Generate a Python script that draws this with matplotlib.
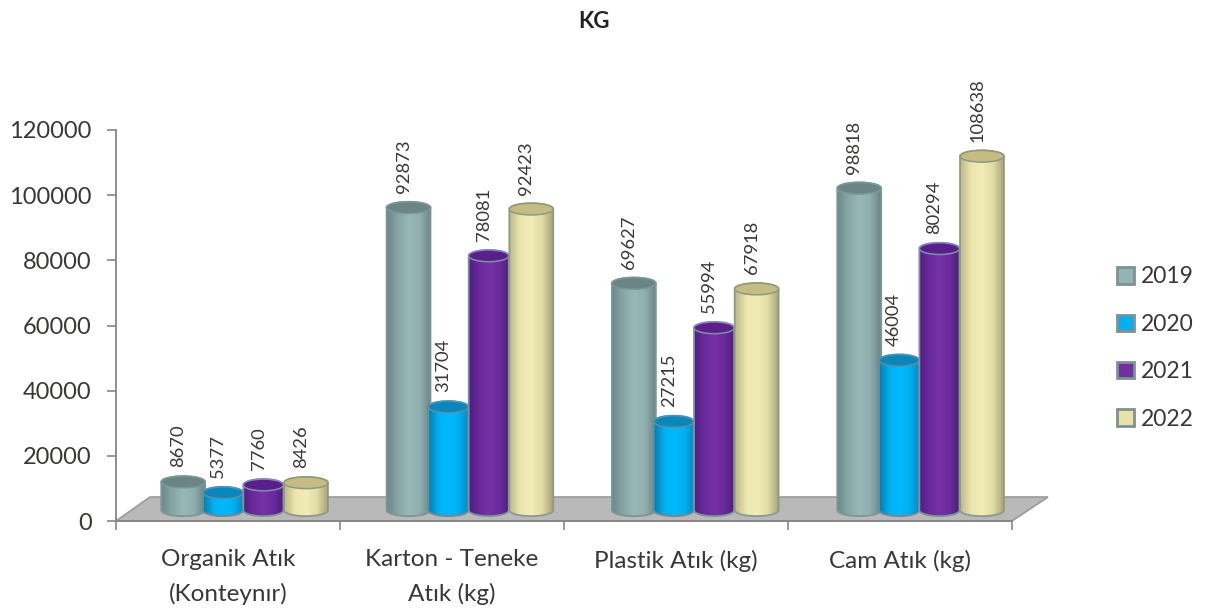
import numpy as np
import matplotlib
matplotlib.use("Agg")
import matplotlib.pyplot as plt
from matplotlib.patches import Ellipse, Polygon, Patch
from matplotlib.colors import LinearSegmentedColormap

categories = ["Organik Atık\n(Konteynır)", "Karton - Teneke\nAtık (kg)", "Plastik Atık (kg)", "Cam Atık (kg)"]
series_names = ["2019", "2020", "2021", "2022"]
v2019 = [8670, 92873, 69627, 98818]
v2020 = [5377, 31704, 27215, 46004]
v2021 = [7760, 78081, 55994, 80294]
v2022 = [8426, 92423, 67918, 108638]
yticks = [0, 20000, 40000, 60000, 80000, 100000, 120000]

series = [v2019, v2020, v2021, v2022]
grads = [["#6d8888", "#86a6a6", "#98b8b8", "#90b0b0", "#6c8484"],
         ["#0a7aa8", "#00b0f0", "#00baff", "#00b0f0", "#0588b8"],
         ["#4f1f80", "#6a2a9c", "#7730a5", "#6a2a9c", "#4a1f78"],
         ["#bcb88a", "#ebe5ae", "#f2edb8", "#e2dca6", "#a6a47a"]]
tops = ["#6b8585", "#0a87b8", "#5a1f8a", "#c4bc82"]
edges = ["#7d9696", "#5f8fa5", "#7f8fa8", "#8f9a80"]
legend_fill = ["#94b4b4", "#00b0f0", "#7030a0", "#e8e2a8"]
widths = [0.196, 0.179, 0.179, 0.196]
offs = [-0.2, -0.022, 0.158, 0.348]

plt.rcParams["font.family"] = ["Lato", "DejaVu Sans"]
W, H = 1207, 610
fig = plt.figure(figsize=(W / 100, H / 100), dpi=100)
ax = fig.add_axes([116 / W, 1 - 521 / H, 896 / W, 391 / H])
ax.set_xlim(0, 4)
ax.set_ylim(0, 120000)

txtc = "#3a3835"
lift = 3300     # floor offset of the bars, in value units
ry = 1800       # half height of cylinder ellipse, in value units
step = 1.006

# floor
dx, dy = 34 / 896, 24 / 391
ax.add_patch(Polygon([(0, 0), (1, 0), (1 + 36 / 896, dy), (dx, dy)], closed=True,
                     transform=ax.transAxes, fc="#b9b9b9", ec="#9a9a9a", lw=1.2,
                     clip_on=False, zorder=1))

t = np.linspace(0, np.pi, 40)
z = 3
for g in range(4):
    for s in range(4):
        val = series[s][g]
        w = widths[s]
        xc = 0.5 + g * step + offs[s]
        top = lift + val
        xs_bot = xc - w / 2 * np.cos(t)
        ys_bot = lift - ry * np.sin(t)
        xs_top = xc + w / 2 * np.cos(t)
        ys_top = top + ry * np.sin(t)
        poly = Polygon(np.c_[np.r_[xs_bot, xs_top], np.r_[ys_bot, ys_top]], closed=True,
                       fc="none", ec=edges[s], lw=1.3, zorder=z + 1, clip_on=False)
        cmap = LinearSegmentedColormap.from_list("c", grads[s])
        im = ax.imshow(np.linspace(0, 1, 128)[None, :], extent=(xc - w / 2, xc + w / 2, lift - ry, top + ry),
                       aspect="auto", cmap=cmap, zorder=z, origin="lower")
        ax.add_patch(poly)
        im.set_clip_path(poly)
        ax.add_patch(Ellipse((xc, top), w, 2 * ry, fc=tops[s], ec=edges[s], lw=1.1,
                             zorder=z + 2, clip_on=False))
        ax.annotate(str(val), (xc, top), xytext=(-3.5, 10.5), textcoords="offset points",
                    rotation=90, ha="center", va="bottom", fontsize=13.2, color=txtc,
                    zorder=100, annotation_clip=False)
        z += 3

ax.set_xlim(0, 4)
ax.set_ylim(0, 120000)

for sp in ["top", "right"]:
    ax.spines[sp].set_visible(False)
for sp in ["left", "bottom"]:
    ax.spines[sp].set_color("#868686")
    ax.spines[sp].set_linewidth(1.3)
    ax.spines[sp].set_zorder(2)

ax.set_yticks(yticks)
ax.set_yticklabels([str(y) for y in yticks])
ax.tick_params(axis="y", length=6.5, width=1.2, color="#868686", labelsize=17, labelcolor=txtc, pad=11)
ax.set_xticks([0, 1, 2, 3, 4])
ax.set_xticklabels([])
ax.tick_params(axis="x", which="major", length=6.5, width=1.2, color="#868686")
ax.set_xticks([0.5, 1.5, 2.5, 3.5], categories, minor=True, fontsize=17.5, color=txtc, linespacing=1.7)
ax.tick_params(axis="x", which="minor", length=0, pad=20.5)

handles = [Patch(fc=c, ec="#7d9393", lw=2) for c in legend_fill]
fig.legend(handles, series_names, loc="center left", bbox_to_anchor=(1117 / W, 1 - 348 / H), frameon=False,
           fontsize=16.5, handlelength=0.72, handleheight=0.72, handletextpad=0.3, labelspacing=1.15,
           labelcolor=txtc, borderpad=0, borderaxespad=0)

fig.text(594 / W, 1 - 22 / H, "KG", ha="center", va="center", fontsize=16, fontweight="bold", color="#222222")

fig.savefig("out.png", dpi=100)
